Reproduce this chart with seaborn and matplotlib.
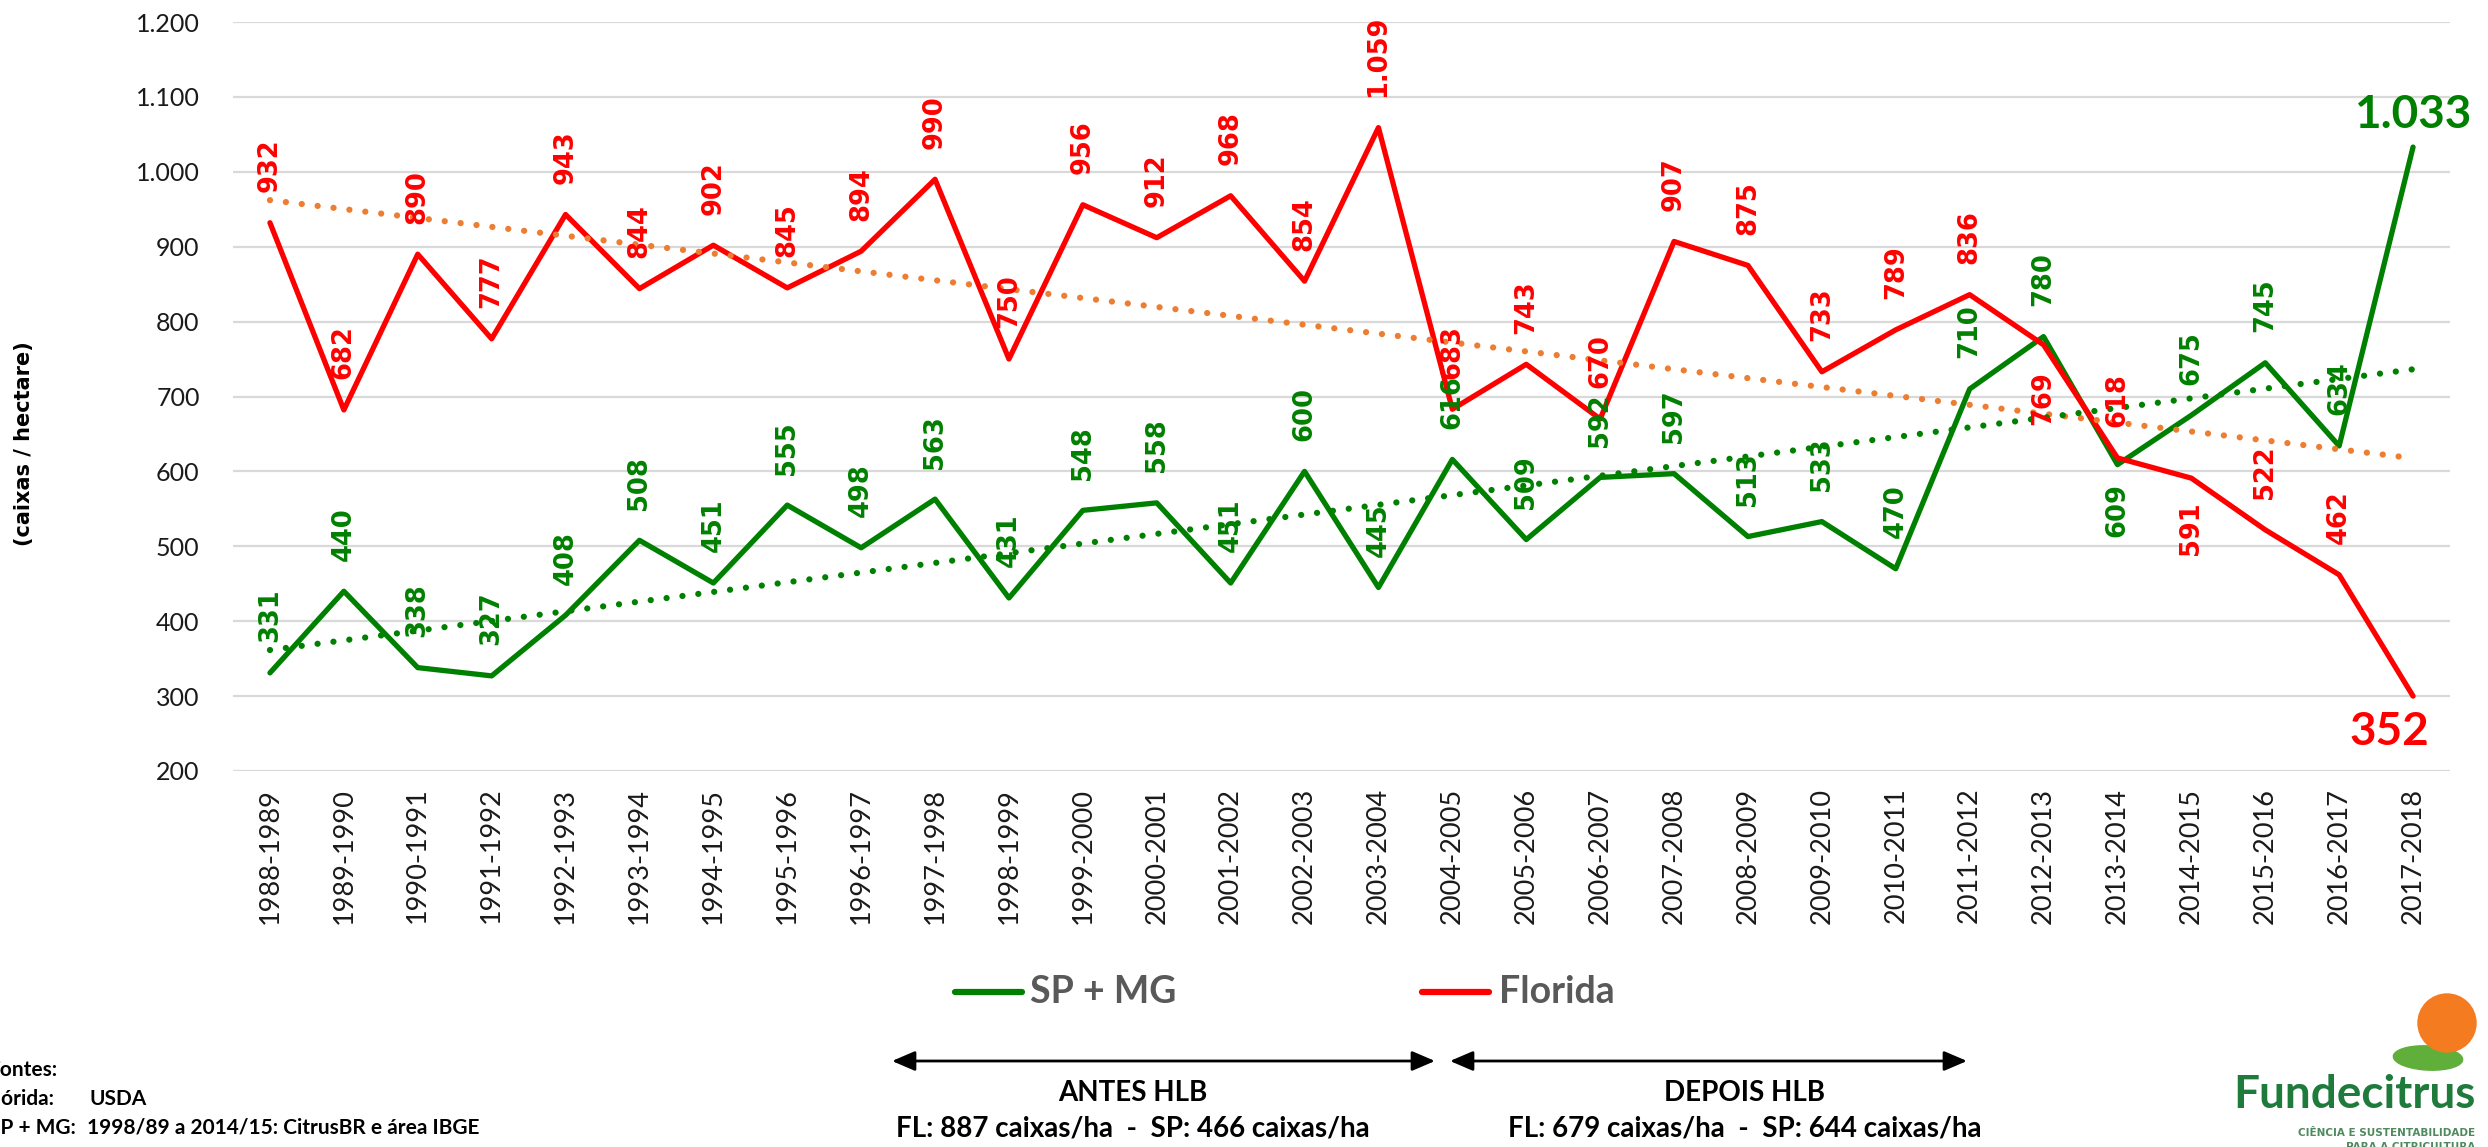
import numpy as np
import pandas as pd
import matplotlib
matplotlib.use('Agg')
import matplotlib.pyplot as plt
import seaborn as sns
from matplotlib.lines import Line2D
from matplotlib.patches import Ellipse

# safras (eixo x)
safras = ['1988-1989', '1989-1990', '1990-1991', '1991-1992', '1992-1993', '1993-1994',
          '1994-1995', '1995-1996', '1996-1997', '1997-1998', '1998-1999', '1999-2000',
          '2000-2001', '2001-2002', '2002-2003', '2003-2004', '2004-2005', '2005-2006',
          '2006-2007', '2007-2008', '2008-2009', '2009-2010', '2010-2011', '2011-2012',
          '2012-2013', '2013-2014', '2014-2015', '2015-2016', '2016-2017', '2017-2018']

# produtividade (caixas / hectare)
sp_mg = [331, 440, 338, 327, 408, 508, 451, 555, 498, 563, 431, 548, 558, 451, 600,
         445, 616, 509, 592, 597, 513, 533, 470, 710, 780, 609, 675, 745, 634, 1033]
florida = [932, 682, 890, 777, 943, 844, 902, 845, 894, 990, 750, 956, 912, 968, 854,
           1059, 683, 743, 670, 907, 875, 733, 789, 836, 769, 618, 591, 522, 462, 300]

# rotulos de dados como aparecem no grafico
sp_mg_labels = ['331', '440', '338', '327', '408', '508', '451', '555', '498', '563',
                '431', '548', '558', '451', '600', '445', '616', '509', '592', '597',
                '513', '533', '470', '710', '780', '609', '675', '745', '634', '1.033']
florida_labels = ['932', '682', '890', '777', '943', '844', '902', '845', '894', '990',
                  '750', '956', '912', '968', '854', '1.059', '683', '743', '670', '907',
                  '875', '733', '789', '836', '769', '618', '591', '522', '462', '352']

yticks = [200, 300, 400, 500, 600, 700, 800, 900, 1000, 1100, 1200]
ytick_labels = ['200', '300', '400', '500', '600', '700', '800', '900', '1.000', '1.100', '1.200']

GREEN = '#008000'
RED = '#FF0000'
ORANGE = '#ED7D31'
NARROW = ['Lato', 'DejaVu Sans']

sns.set_style('white')
plt.rcParams['font.family'] = ['DejaVu Sans']

W, H = 2488, 1147
fig = plt.figure(figsize=(W / 100, H / 100), dpi=100)
ax = fig.add_axes([233 / W, 1 - 771 / H, (2450 - 233) / W, (771 - 22) / H])

idx = np.arange(len(safras))
df = pd.DataFrame({
    'idx': np.concatenate([idx, idx]),
    'valor': sp_mg + florida,
    'regiao': ['SP + MG'] * len(idx) + ['Florida'] * len(idx),
})

sns.lineplot(data=df, x='idx', y='valor', hue='regiao',
             palette={'SP + MG': GREEN, 'Florida': RED}, lw=3.8, legend=False, ax=ax, zorder=3)

# linhas de tendencia (pontilhadas)
dots = dict(lw=4.5, ls=(0, (0.01, 2.55)), dash_capstyle='round', zorder=4)
sns.regplot(x=idx, y=np.array(florida), scatter=False, ci=None, color=ORANGE,
            line_kws=dots, ax=ax)
sns.regplot(x=idx, y=np.array(sp_mg), scatter=False, ci=None, color=GREEN,
            line_kws=dots, ax=ax)

# rotulos de dados
below = {('fl', 24): 19, ('fl', 26): 17, ('sp', 25): 13}
for key, vals, labs, col in [('sp', sp_mg, sp_mg_labels, GREEN), ('fl', florida, florida_labels, RED)]:
    for i, (v, t) in enumerate(zip(vals, labs)):
        if i == len(vals) - 1:
            continue
        if (key, i) in below:
            ax.annotate(t, xy=(i, v), xytext=(0, -below[(key, i)]), textcoords='offset points',
                        rotation=90, ha='center', va='top', color=col,
                        fontsize=18.5, fontweight='bold', zorder=5)
        else:
            ax.annotate(t, xy=(i, v), xytext=(0, 22), textcoords='offset points',
                        rotation=90, ha='center', va='bottom', color=col,
                        fontsize=18.5, fontweight='bold', zorder=5)

last = len(safras) - 1
ax.annotate(sp_mg_labels[last], xy=(last, sp_mg[last]), xytext=(0, 8), textcoords='offset points',
            ha='center', va='bottom', color=GREEN, fontsize=33, fontweight='bold', family=NARROW)
ax.annotate(florida_labels[last], xy=(last, florida[last]), xytext=(-17, -11), textcoords='offset points',
            ha='center', va='top', color=RED, fontsize=33, fontweight='bold', family=NARROW)

ax.set_xlim(-0.5, len(safras) - 0.5)
ax.set_ylim(200, 1200)
ax.set_yticks(yticks)
ax.set_yticklabels(ytick_labels, family=NARROW, fontsize=18, color='#1a1a1a')
ax.set_xticks(idx)
ax.set_xticklabels(safras, rotation=90, family=NARROW, fontsize=19.5, color='#1a1a1a')
ax.tick_params(axis='y', length=0, pad=24)
ax.tick_params(axis='x', length=0, pad=12)
ax.grid(axis='y', color='#D9D9D9', lw=1.6)
ax.set_axisbelow(True)
for s in ax.spines.values():
    s.set_visible(False)
ax.set_xlabel('')
ax.set_ylabel('')

fig.text(24 / W, 1 - 444 / H, '(caixas / hectare)', rotation=90, ha='center', va='center',
         fontsize=15, fontweight='bold', color='black')

# legenda (desenhada a mao para casar posicoes)
ly = 1 - 992 / H
for x0, x1, col, tx, name in [(955, 1022, GREEN, 1030, 'SP + MG'), (1422, 1489, RED, 1499, 'Florida')]:
    fig.add_artist(Line2D([x0 / W, x1 / W], [ly, ly], transform=fig.transFigure,
                          color=col, lw=4.5, solid_capstyle='round'))
    fig.text(tx / W, ly, name, ha='left', va='center', color='#595959',
             fontsize=27, fontweight='bold', family=NARROW)

# setas antes / depois HLB
arrow = dict(arrowstyle='<|-|>,head_length=0.7,head_width=0.3', color='black', lw=2,
             mutation_scale=20, shrinkA=0, shrinkB=0)
ay = H - 1061
ax.annotate('', xy=(892, ay), xytext=(1435, ay), xycoords='figure pixels',
            textcoords='figure pixels', arrowprops=arrow)
ax.annotate('', xy=(1450, ay), xytext=(1967, ay), xycoords='figure pixels',
            textcoords='figure pixels', arrowprops=arrow)

txt = dict(ha='center', va='center', family=NARROW, fontweight='bold', color='black', fontsize=20)
fig.text(1133 / W, 1 - 1093 / H, 'ANTES HLB', **txt)
fig.text(1133 / W, 1 - 1128 / H, 'FL: 887 caixas/ha  -  SP: 466 caixas/ha', **txt)
fig.text(1745 / W, 1 - 1093 / H, 'DEPOIS HLB', **txt)
fig.text(1745 / W, 1 - 1128 / H, 'FL: 679 caixas/ha  -  SP: 644 caixas/ha', **txt)

# fontes (cortadas na margem esquerda, como no original)
src = dict(ha='left', va='center', family=NARROW, fontweight='bold', color='black', fontsize=15)
fig.text(-12 / W, 1 - 1070 / H, 'Fontes:', **src)
fig.text(-16 / W, 1 - 1099 / H, 'Flórida:', **src)
fig.text(89 / W, 1 - 1099 / H, 'USDA', **src)
fig.text(-11 / W, 1 - 1128 / H, 'SP + MG:', **src)
fig.text(87 / W, 1 - 1128 / H, '1998/89 a 2014/15: CitrusBR e área IBGE', **src)

# logo Fundecitrus
fig.add_artist(Ellipse((2428 / W, 1 - 1058 / H), 70 / W, 24 / H, angle=-12,
                       transform=fig.transFigure, color='#5FAF3A'))
fig.add_artist(Ellipse((2447 / W, 1 - 1023 / H), 58 / W, 58 / H, transform=fig.transFigure,
                       color='#F47B20'))
fig.text(2476 / W, 1 - 1095 / H, 'Fundecitrus', ha='right', va='center', color='#1E7B3C',
         fontsize=33, fontweight='bold', family=['Lato', 'DejaVu Sans'])
fig.text(2475 / W, 1 - 1133 / H, 'CIÊNCIA E SUSTENTABILIDADE', ha='right', va='center',
         color='#4F8A5E', fontsize=7.5, fontweight='bold')
fig.text(2475 / W, 1 - 1147 / H, 'PARA A CITRICULTURA', ha='right', va='center',
         color='#4F8A5E', fontsize=7.5, fontweight='bold')

plt.savefig('out.png', dpi=100)
